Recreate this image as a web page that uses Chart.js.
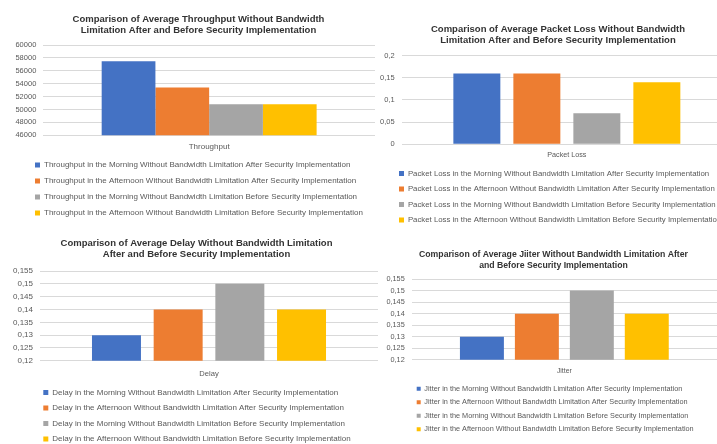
<!DOCTYPE html>
<html>
<head>
<meta charset="utf-8">
<script src="https://cdn.jsdelivr.net/npm/chart.js@4.4.1/dist/chart.umd.min.js"></script>
<style>
  html, body { margin: 0; padding: 0; background: #fff; }
  #page { position: relative; width: 717px; height: 444px; overflow: hidden; }
  canvas { position: absolute; }
</style>
</head>
<body>
<div id="page">
  <canvas id="throughputChart"></canvas>
  <canvas id="packetLossChart"></canvas>
  <canvas id="delayChart"></canvas>
  <canvas id="jitterChart"></canvas>
</div>
<script>
// series names shared by all four charts, prefixed by the metric
const seriesSuffixes = [
    'in the Morning Without Bandwidth Limitation After Security Implementation',
    'in the Afternoon Without Bandwidth Limitation After Security Implementation',
    'in the Morning Without Bandwidth Limitation Before Security Implementation',
    'in the Afternoon Without Bandwidth Limitation Before Security Implementation'
];

const throughputCategory = ['Throughput'];
const throughputValues = [57500, 53400, 50800, 50800];
const throughputTicks = [46000, 48000, 50000, 52000, 54000, 56000, 58000, 60000];

const packetLossCategory = ['Packet Loss'];
const packetLossValues = [0.16, 0.16, 0.07, 0.14];
const packetLossTicks = [0, 0.05, 0.1, 0.15, 0.2];

const delayCategory = ['Delay'];
const delayValues = [0.13, 0.14, 0.15, 0.14];
const delayTicks = [0.12, 0.125, 0.13, 0.135, 0.14, 0.145, 0.15, 0.155];

const jitterCategory = ['Jitter'];
const jitterValues = [0.13, 0.14, 0.15, 0.14];
const jitterTicks = [0.12, 0.125, 0.13, 0.135, 0.14, 0.145, 0.15, 0.155];

const barColors = ['#4472C4', '#ED7D31', '#A5A5A5', '#FFC000'];
const textColor = '#595959';
const gridColor = '#D9D9D9';
const fontFamily = '"Liberation Sans", Arial, sans-serif';

function formatTick(v) {
    return String(v).replace('.', ',');
}

// moves the legend and title boxes sideways after layout (Excel places them independently of the plot)
const placeBlocks = {
    id: 'placeBlocks',
    afterLayout(chart, args, opts) {
        const lg = chart.legend;
        if (lg && opts.legendX != null) {
            const dx = opts.legendX - lg.options.labels.padding - lg.left;
            lg.left += dx;
            lg.right += dx;
        }
        const tb = chart.titleBlock;
        if (tb && opts.titleCenter != null) {
            const dx = opts.titleCenter - (tb.left + tb.right) / 2;
            tb.left += dx;
            tb.right += dx;
        }
    }
};

function buildChart(id, cfg) {
    const canvas = document.getElementById(id);
    canvas.width = cfg.box.w;
    canvas.height = cfg.box.h;
    canvas.style.left = cfg.box.x + 'px';
    canvas.style.top = cfg.box.y + 'px';
    canvas.style.width = cfg.box.w + 'px';
    canvas.style.height = cfg.box.h + 'px';

    const datasets = cfg.values.map((v, i) => ({
        label: cfg.prefix + ' ' + seriesSuffixes[i],
        data: [v],
        backgroundColor: barColors[i],
        borderWidth: 0,
        categoryPercentage: cfg.catPct,
        barPercentage: cfg.barPct
    }));

    return new Chart(canvas.getContext('2d'), {
        type: 'bar',
        data: { labels: cfg.category, datasets: datasets },
        plugins: [placeBlocks],
        options: {
            responsive: false,
            animation: false,
            devicePixelRatio: 1,
            layout: { padding: 0, autoPadding: false },
            plugins: {
                placeBlocks: {
                    legendX: cfg.legendX - cfg.box.x,
                    titleCenter: cfg.titleCenter - cfg.box.x
                },
                title: {
                    display: true,
                    text: cfg.title,
                    color: '#333333',
                    font: { family: fontFamily, size: cfg.titleSize, weight: 'bold', lineHeight: cfg.titleLh },
                    padding: { top: cfg.titlePadTop, bottom: cfg.titlePadBottom }
                },
                legend: {
                    position: 'bottom',
                    align: 'start',
                    labels: {
                        color: textColor,
                        font: { family: fontFamily, size: cfg.legendSize },
                        boxWidth: cfg.legendBox,
                        boxHeight: cfg.legendBox,
                        padding: cfg.legendPad
                    }
                },
                tooltip: { enabled: false }
            },
            scales: {
                x: {
                    grid: { display: false, drawTicks: false },
                    border: { display: false },
                    ticks: {
                        color: textColor,
                        font: { family: fontFamily, size: cfg.xSize },
                        padding: cfg.xPad
                    },
                    afterFit: (scale) => { scale.height = cfg.xHeight; }
                },
                y: {
                    min: cfg.ticks[0],
                    max: cfg.ticks[cfg.ticks.length - 1],
                    grid: { color: gridColor, drawTicks: false, lineWidth: 1 },
                    border: { display: false },
                    ticks: {
                        color: textColor,
                        font: { family: fontFamily, size: cfg.ySize },
                        padding: 7,
                        autoSkip: false,
                        callback: (value) => formatTick(value)
                    },
                    afterBuildTicks: (scale) => {
                        scale.ticks = cfg.ticks.map(v => ({ value: v }));
                    },
                    afterFit: (scale) => { scale.width = cfg.yWidth; }
                }
            }
        }
    });
}

buildChart('throughputChart', {
    box: { x: 5, y: 0, w: 370, h: 227 },
    legendX: 35, titleCenter: 198.5,
    category: throughputCategory,
    values: throughputValues,
    ticks: throughputTicks,
    prefix: 'Throughput',
    title: ['Comparison of Average Throughput Without Bandwidth', 'Limitation After and Before Security Implementation'],
    titleSize: 9.5, titleLh: 1.15, titlePadTop: 13.5, titlePadBottom: 9.7,
    legendSize: 8, legendBox: 5, legendPad: 8,
    xSize: 8, xPad: 6.9, xHeight: 17.7,
    ySize: 7.5, yWidth: 38.3,
    catPct: 0.648, barPct: 1
});

buildChart('packetLossChart', {
    box: { x: 375, y: 0, w: 357, h: 234 },
    legendX: 399, titleCenter: 558,
    category: packetLossCategory,
    values: packetLossValues,
    ticks: packetLossTicks,
    prefix: 'Packet Loss',
    title: ['Comparison of Average Packet Loss Without Bandwidth', 'Limitation After and Before Security Implementation'],
    titleSize: 9.5, titleLh: 1.16, titlePadTop: 23.5, titlePadBottom: 10.2,
    legendSize: 7.8, legendBox: 5, legendPad: 7.7,
    xSize: 7.2, xPad: 6.4, xHeight: 17.8,
    ySize: 7.5, yWidth: 26.7,
    catPct: 0.7266, barPct: 0.783
});

buildChart('delayChart', {
    box: { x: 2, y: 225, w: 376, h: 228 },
    legendX: 43.3, titleCenter: 196.5,
    category: delayCategory,
    values: delayValues,
    ticks: delayTicks,
    prefix: 'Delay',
    title: ['Comparison of Average Delay Without Bandwidth Limitation', 'After and Before Security Implementation'],
    titleSize: 9.5, titleLh: 1.16, titlePadTop: 12.5, titlePadBottom: 11.5,
    legendSize: 8, legendBox: 5, legendPad: 7.5,
    xSize: 7.6, xPad: 8.1, xHeight: 20.2,
    ySize: 8, yWidth: 38,
    catPct: 0.73, barPct: 0.794
});

buildChart('jitterChart', {
    box: { x: 380, y: 225, w: 337, h: 218 },
    legendX: 416.7, titleCenter: 553.5,
    category: jitterCategory,
    values: jitterValues,
    ticks: jitterTicks,
    prefix: 'Jitter',
    title: ['Comparison of Average Jiiter Without Bandwidth Limitation After', 'and Before Security Implementation'],
    titleSize: 8.7, titleLh: 1.22, titlePadTop: 24.4, titlePadBottom: 8.4,
    legendSize: 7.3, legendBox: 4, legendPad: 6.2,
    xSize: 6.9, xPad: 7.25, xHeight: 19.15,
    ySize: 7.3, yWidth: 31.7,
    catPct: 0.72, barPct: 0.8
});
</script>
</body>
</html>
